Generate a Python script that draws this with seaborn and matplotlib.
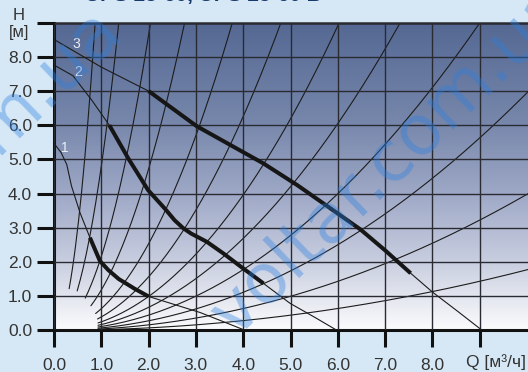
import numpy as np
import matplotlib
matplotlib.use("Agg")
import matplotlib.pyplot as plt
import seaborn as sns
from matplotlib.colors import LinearSegmentedColormap

# ---- axis ticks -------------------------------------------------------
flow_ticks = [0, 1, 2, 3, 4, 5, 6, 7, 8, 9]
flow_labels = ["0.0", "1.0", "2.0", "3.0", "4.0", "5.0", "6.0", "7.0", "8.0", ""]
head_ticks = [0, 1, 2, 3, 4, 5, 6, 7, 8, 9]
head_labels = ["0.0", "1.0", "2.0", "3.0", "4.0", "5.0", "6.0", "7.0", "8.0", ""]

# ---- pump curves (speed 1, 2, 3): flow Q [m3/h], head H [m] ------------
speed1_q = [0.0, 0.15, 0.27, 0.37, 0.55, 0.76, 0.97, 1.15, 1.37, 1.70, 2.00, 3.09, 4.04]
speed1_h = [5.47, 5.20, 4.85, 4.22, 3.44, 2.71, 2.03, 1.76, 1.50, 1.22, 0.99, 0.52, 0.00]
speed1_work = (0.76, 2.00)   # highlighted working range

speed2_q = [0.0, 0.40, 0.80, 1.17, 1.57, 1.99, 2.35, 2.55, 2.73, 2.90, 3.23, 3.58, 4.00, 4.43, 4.99, 5.55, 5.98]
speed2_h = [7.76, 7.45, 6.73, 6.00, 5.03, 4.10, 3.55, 3.22, 2.99, 2.83, 2.59, 2.25, 1.81, 1.37, 0.79, 0.35, 0.00]
speed2_work = (1.17, 4.43)

speed3_q = [0.0, 1.00, 2.00, 3.02, 4.43, 5.14, 5.78, 6.48, 7.00, 7.54, 8.00, 8.53, 9.05]
speed3_h = [8.51, 7.70, 7.00, 5.97, 4.88, 4.25, 3.63, 2.95, 2.34, 1.67, 1.12, 0.56, 0.00]
speed3_work = (2.00, 7.54)

speed_names = ["1", "2", "3"]
speed_label_q = [0.23, 0.51, 0.48]
speed_label_h = [5.32, 7.56, 8.37]

# ---- system characteristics H = k * Q^2 --------------------------------
system_k = [11.9, 4.80, 2.16, 1.18, 0.633, 0.391, 0.2475, 0.168, 0.111, 0.0695, 0.0398, 0.0177]
system_q_start = [0.32, 0.49, 0.66, 0.78, 0.88, 0.92, 0.93, 0.93, 0.93, 0.93, 0.93, 0.93]

title_text = "UPS 25-60, UPS 25-60 B"
watermark_text = "voltar.com.ua"

# ---- figure -----------------------------------------------------------
sns.set_theme(style="white")
plt.rcParams["font.family"] = ["Liberation Sans", "DejaVu Sans"]

W, H = 528, 372
fig = plt.figure(figsize=(W / 100, H / 100), dpi=100, facecolor="#d6e8f5")
x0, x1, ytop, ybot = 54.0, 528.0, 22.7, 330.3
ax = fig.add_axes([x0 / W, (H - ybot) / H, (x1 - x0) / W, (ybot - ytop) / H])

q_max = (x1 - x0) / 47.3
h_max = 9.0
ax.set_xlim(0, q_max)
ax.set_ylim(0, h_max)

# vertical gradient: white at the bottom, slate blue at the top
stops = [(0.0, "#fbfbfd"), (1 / 9, "#e2e5ee"), (2 / 9, "#c8cee0"),
         (4 / 9, "#9ea8c6"), (6 / 9, "#7888ac"), (1.0, "#546893")]
cmap = LinearSegmentedColormap.from_list("bg", stops)
ax.imshow(np.linspace(0, 1, 256).reshape(-1, 1), extent=[0, q_max, 0, h_max],
          aspect="auto", origin="lower", cmap=cmap, zorder=0)

# grid
ax.set_xticks(flow_ticks)
ax.set_xticklabels(flow_labels)
ax.set_yticks(head_ticks)
ax.set_yticklabels(head_labels)
ax.grid(True, color="#2a2a33", linewidth=1.0)
ax.set_axisbelow(False)
for gl in ax.get_xgridlines() + ax.get_ygridlines():
    gl.set_zorder(1)

# system curves
for k, qs in zip(system_k, system_q_start):
    q = np.linspace(qs, q_max + 0.2, 300)
    sns.lineplot(x=q, y=k * q ** 2, ax=ax, color="#1c1c1c", linewidth=0.8,
                 estimator=None, sort=False, zorder=2)


def draw_speed(qs, hs, work):
    qs = np.asarray(qs)
    hs = np.asarray(hs)
    sns.lineplot(x=qs, y=hs, ax=ax, color="#1c1c1c", linewidth=0.8,
                 estimator=None, sort=False, zorder=3)
    m = (qs >= work[0] - 1e-9) & (qs <= work[1] + 1e-9)
    sns.lineplot(x=qs[m], y=hs[m], ax=ax, color="#161616", linewidth=2.9,
                 estimator=None, sort=False, zorder=4,
                 solid_capstyle="butt", solid_joinstyle="round")


draw_speed(speed1_q, speed1_h, speed1_work)
draw_speed(speed2_q, speed2_h, speed2_work)
draw_speed(speed3_q, speed3_h, speed3_work)

for name, lq, lh in zip(speed_names, speed_label_q, speed_label_h):
    ax.text(lq, lh, name, color="#e8edf6", fontsize=10, ha="center", va="center", zorder=5)

# spines and ticks
for side in ["left", "bottom"]:
    ax.spines[side].set_color("#111111")
    ax.spines[side].set_linewidth(2.2)
ax.spines["top"].set_color("#2b2b33")
ax.spines["top"].set_linewidth(1.8)
ax.spines["right"].set_visible(False)
ax.tick_params(axis="both", direction="out", length=12.2, width=2.2, color="#111111",
               labelsize=12.5, labelcolor="#333333")
ax.tick_params(axis="y", pad=3.6, left=True)
ax.tick_params(axis="x", pad=7.5, bottom=True)

# axis captions
fig.text(18.5 / W, 1 - 15 / H, "H", fontsize=12, color="#333333", ha="center", va="center")
fig.text(19.5 / W, 1 - 33 / H, "[м]", fontsize=12, color="#333333", ha="center", va="center")
fig.text(466 / W, 1 - 362 / H, "Q [м³/ч]", fontsize=12.5, color="#333333", ha="left", va="center")

# title, mostly cut by the upper edge
fig.text(85 / W, 1 - 1.5 / H, title_text, fontsize=15, fontweight="bold", color="#173a6c",
         ha="left", va="baseline")

# watermark (two diagonal copies)
wm_style = dict(fontsize=50, color="#2b7fe0", alpha=0.38, rotation=44,
                rotation_mode="anchor", va="baseline", zorder=10,
                family=["DejaVu Sans"])
fig.text(235 / W, 1 - 338 / H, watermark_text, ha="left", **wm_style)
fig.text(125 / W, 1 - 35 / H, watermark_text, ha="right", **wm_style)

fig.savefig("out.png", dpi=100, facecolor=fig.get_facecolor())
